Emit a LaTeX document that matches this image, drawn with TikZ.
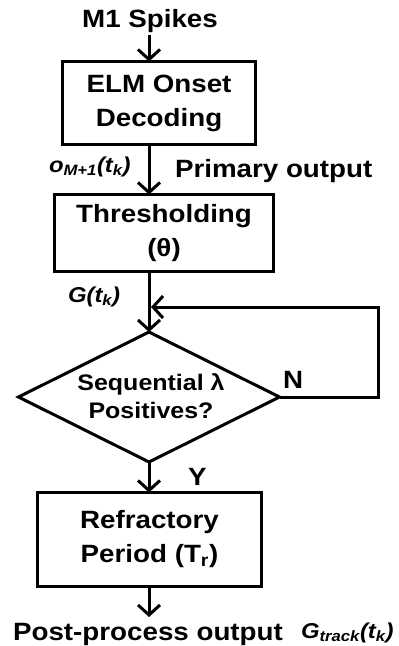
\documentclass[tikz,border=0pt]{standalone}
\usepackage{fontspec}
\setmainfont{Liberation Sans}[FakeStretch=1.11]
\usetikzlibrary{arrows.meta,shapes.geometric}
\tikzset{
  every node/.style={inner sep=0pt, outer sep=0pt, text=black},
  big/.style={font=\fontsize{25}{34}\selectfont\bfseries, align=center},
  mid/.style={font=\fontsize{22.5}{28}\selectfont\bfseries, align=center},
  lbl/.style={font=\fontsize{21.5}{24}\selectfont\bfseries\itshape},
  box/.style={draw, line width=3pt, big},
  arr/.style={line width=3pt, -{Straight Barb[length=10pt,width=22pt]}},
  ln/.style={line width=3pt}
}
\begin{document}
\begin{tikzpicture}[x=1pt,y=-1pt]
\useasboundingbox (0,0) rectangle (399,646);
\coordinate (sp) at (149,0);
\node[big, anchor=base] (m1) at (150,27) {M1 Spikes};
\node[box, minimum width=193, minimum height=83] (b1) at (159,103) {ELM Onset\\Decoding};
\node[box, minimum width=219, minimum height=77] (b2) at (164,233) {Thresholding\\(θ)};
\node[draw, diamond, line width=3pt, minimum width=261, minimum height=130] (dia) at (149,397) {};
\node[mid] (diatext) at (151,396) {Sequential λ\\Positives?};
\node[box, minimum width=224, minimum height=94] (b3) at (149.5,539.5) {Refractory\\Period (T\textsubscript{r})};
\coordinate (fbR) at (378,307);
\coordinate (outp) at (149,617);
\coordinate (fbEnd) at (151,307);
\node[lbl, anchor=base west] (olab) at (49,172) {o\textsubscript{M+1}(t\textsubscript{k})};
\node[big, anchor=base west] (prim) at (175,177) {Primary output};
\node[lbl, anchor=base west] (glab) at (68,302) {G(t\textsubscript{k})};
\node[big, anchor=base west] (nlab) at (283,388) {N};
\node[big, anchor=base west] (ylab) at (188,485) {Y};
\node[big, anchor=base] (post) at (148,640) {Post-process output};
\node[lbl, anchor=base west] (gtr) at (301,638) {G\textsubscript{track}(t\textsubscript{k})};
\draw[arr] (m1.south -| sp) ++(0,3) -- (b1.north -| sp);
\draw[arr] (b1.south -| sp) -- (b2.north -| sp);
\draw[arr] (b2.south -| sp) -- (dia.north);
\draw[arr] (dia.east) -| (fbR) -- (fbEnd);
\draw[arr] (dia.south) -- (b3.north -| sp);
\draw[arr] (b3.south -| sp) -- (outp);
\end{tikzpicture}
\end{document}
